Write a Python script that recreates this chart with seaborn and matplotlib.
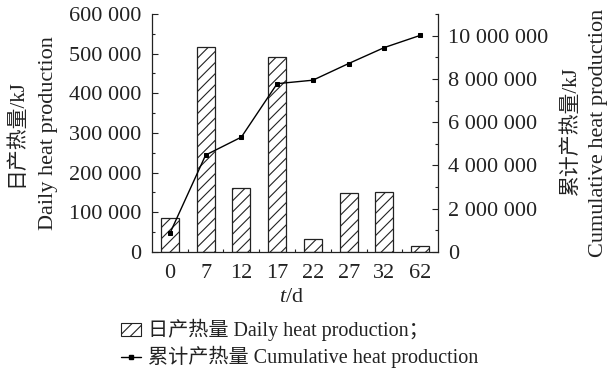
import numpy as np
import pandas as pd
import matplotlib
matplotlib.use("Agg")
import matplotlib.pyplot as plt
import seaborn as sns
from matplotlib.ticker import FuncFormatter, MultipleLocator, FixedLocator
from matplotlib.patches import Patch
from matplotlib.lines import Line2D

days = ["0", "7", "12", "17", "22", "27", "32", "62"]
daily = [86500, 517500, 162000, 492000, 33000, 148000, 150500, 16000]
cumulative = [860000, 4480000, 5310000, 7780000, 7940000, 8710000, 9450000, 10010000]

left_label_cn = "日产热量/kJ"
left_label_en = "Daily heat production"
right_label_cn = "累计产热量/kJ"
right_label_en = "Cumulative heat production"
legend_bar = "日产热量 Daily heat production；"
legend_line = "累计产热量 Cumulative heat production"

sns.set_theme(style="ticks")
FAM = ["Liberation Serif", "Noto Sans CJK SC", "DejaVu Sans"]
plt.rcParams["font.family"] = FAM
plt.rcParams["mathtext.fontset"] = "custom"
plt.rcParams["mathtext.it"] = "Liberation Serif:italic"
plt.rcParams["mathtext.rm"] = "Liberation Serif"
plt.rcParams["hatch.linewidth"] = 0.8
plt.rcParams["axes.linewidth"] = 0.9

df = pd.DataFrame({"day": days, "daily": daily, "cum": cumulative})

fig = plt.figure(figsize=(6.07, 3.72), dpi=100)
ax = fig.add_axes([0.2504, 0.3226, 0.4712, 0.6398])

sns.barplot(data=df, x="day", y="daily", order=days, color="white",
            edgecolor="#222222", linewidth=0.9, width=0.5, ax=ax, saturation=1)
for p in ax.patches:
    p.set_hatch("///")
    p.set_facecolor("white")
    p.set_edgecolor("#222222")

ax2 = ax.twinx()
sns.lineplot(x=np.arange(len(days)), y=df["cum"], ax=ax2, color="black",
             linewidth=1.0, marker="s", markersize=2.8, markeredgecolor="black")

ax.set_xlim(-0.5, len(days) - 0.5)
ax.set_ylim(0, 600000)
ax2.set_ylim(0, 11000000)

fmt = FuncFormatter(lambda v, p: f"{int(round(v)):,}".replace(",", " "))
ax.yaxis.set_major_locator(MultipleLocator(100000))
ax.yaxis.set_minor_locator(MultipleLocator(50000))
ax.yaxis.set_major_formatter(fmt)
ax2.yaxis.set_major_locator(FixedLocator([0, 2e6, 4e6, 6e6, 8e6, 10e6]))
ax2.yaxis.set_minor_locator(MultipleLocator(1000000))
ax2.yaxis.set_major_formatter(fmt)
ax.xaxis.set_minor_locator(FixedLocator(np.arange(0.5, len(days) - 0.5, 1.0)))

ax.tick_params(axis="y", which="major", direction="in", length=4, width=0.8,
               labelsize=16, pad=8, colors="#222222", labelcolor="#222222")
ax.tick_params(axis="y", which="minor", direction="in", length=2.5, width=0.8, colors="#222222")
ax.tick_params(axis="x", which="major", length=0, labelsize=16, pad=9, labelcolor="#222222")
ax.tick_params(axis="x", which="minor", direction="in", length=2.5, width=0.8, colors="#222222")
ax2.tick_params(axis="y", which="major", direction="in", length=4, width=0.8,
                labelsize=16, pad=7, colors="#222222", labelcolor="#222222")
ax2.tick_params(axis="y", which="minor", direction="in", length=2.5, width=0.8, colors="#222222")

for a in (ax, ax2):
    a.spines["top"].set_visible(False)
    for s in ("left", "right", "bottom"):
        a.spines[s].set_color("#222222")
ax.spines["right"].set_visible(False)
ax2.spines["left"].set_visible(False)
ax2.spines["bottom"].set_visible(False)

ax.set_xlabel("")
ax.set_ylabel("")
ax2.set_ylabel("")
ax2.set_xlabel("")

fig.text(17 / 607, 1 - 133 / 372, left_label_cn, rotation=90, ha="center", va="center",
         fontsize=15, color="#222222")
fig.text(49 / 607, 1 - 133 / 372, left_label_en, rotation=90, ha="center", va="center",
         fontsize=16, color="#222222")
fig.text(571 / 607, 1 - 131 / 372, right_label_cn, rotation=90, ha="center", va="center",
         fontsize=15, color="#222222")
fig.text(598 / 607, 1 - 133 / 372, right_label_en, rotation=90, ha="center", va="center",
         fontsize=16, color="#222222")
fig.text(292 / 607, 1 - 298 / 372, "$t$/d", ha="center", va="center", fontsize=16, color="#222222")

handles = [Patch(facecolor="white", edgecolor="#222222", hatch="///", linewidth=0.8),
           Line2D([], [], color="black", linewidth=1.0, marker="s", markersize=2.8)]
fig.legend(handles, [legend_bar, legend_line], loc="upper left",
           bbox_to_anchor=(121 / 607, 1 - 319 / 372), frameon=False, fontsize=14.5,
           handlelength=1.0, handleheight=0.6, handletextpad=0.35, labelspacing=0.25,
           borderpad=0, borderaxespad=0, labelcolor="#222222")

fig.savefig("out.png", dpi=100)
